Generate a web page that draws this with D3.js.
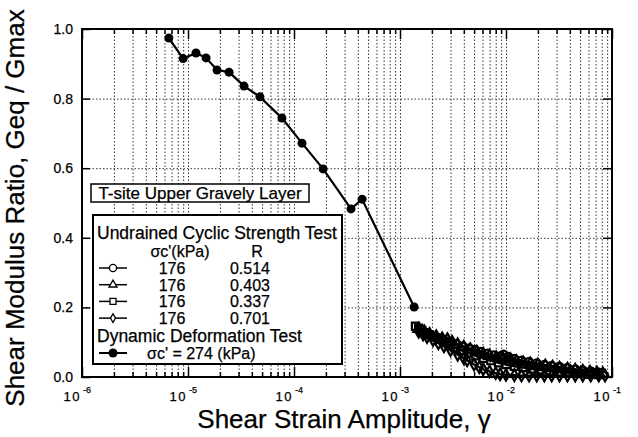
<html>
<head>
<script src="https://d3js.org/d3.v7.min.js" charset="utf-8"></script>
<style>
  body { margin: 0; background: #fff; }
  text { font-family: "Liberation Sans", Arial, Helvetica, sans-serif; fill: #000; stroke: #000; stroke-width: 0.25px; }
</style>
</head>
<body>
<div id="graph"></div>
<script>
// dynamic deformation test (filled circles)
const dynStrain = [6.6e-6, 9.0e-6, 1.19e-5, 1.48e-5, 1.88e-5, 2.44e-5, 3.38e-5, 4.77e-5, 7.7e-5, 1.19e-4, 1.88e-4, 3.45e-4, 4.39e-4, 1.36e-3];
const dynRatio  = [0.974, 0.915, 0.931, 0.917, 0.882, 0.876, 0.836, 0.805, 0.744, 0.672, 0.598, 0.483, 0.511, 0.201];

// undrained cyclic strength tests
const circStrain = [1.6e-3, 1.8e-3, 2.0e-3, 2.3e-3, 2.6e-3, 3.0e-3, 3.4e-3, 3.9e-3, 4.5e-3, 5.1e-3, 5.8e-3, 6.7e-3, 7.7e-3, 8.8e-3, 9.5e-3, 1.05e-2, 1.2e-2, 1.4e-2, 1.65e-2, 1.95e-2, 2.3e-2, 2.7e-2, 3.2e-2, 3.8e-2, 4.5e-2, 5.3e-2, 6.3e-2, 7.4e-2];
const circRatio  = [0.135, 0.126, 0.118, 0.112, 0.106, 0.100, 0.094, 0.088, 0.082, 0.078, 0.072, 0.067, 0.062, 0.059, 0.064, 0.058, 0.052, 0.047, 0.043, 0.039, 0.035, 0.032, 0.029, 0.026, 0.022, 0.019, 0.016, 0.013];

const triStrain = [1.5e-3, 1.7e-3, 1.9e-3, 2.2e-3, 2.5e-3, 2.8e-3, 3.1e-3, 3.5e-3, 4.0e-3, 4.6e-3, 5.3e-3, 6.1e-3, 7.0e-3, 8.1e-3, 9.4e-3, 1.1e-2, 1.25e-2, 1.45e-2, 1.7e-2, 2.0e-2, 2.35e-2, 2.75e-2, 3.2e-2, 3.8e-2, 4.5e-2, 5.3e-2, 6.2e-2, 7.2e-2, 8.2e-2];
const triRatio  = [0.138, 0.130, 0.123, 0.116, 0.110, 0.108, 0.100, 0.093, 0.086, 0.079, 0.072, 0.066, 0.061, 0.056, 0.052, 0.050, 0.045, 0.041, 0.038, 0.035, 0.032, 0.029, 0.026, 0.023, 0.020, 0.017, 0.014, 0.012, 0.010];

const sqStrain = [1.40e-3, 1.5e-3, 1.6e-3, 1.75e-3, 1.9e-3, 2.05e-3, 2.3e-3, 2.6e-3, 2.9e-3, 3.3e-3, 3.8e-3, 4.4e-3, 5.2e-3, 6.1e-3, 7.2e-3, 8.5e-3, 1.0e-2, 1.2e-2, 1.45e-2, 1.75e-2, 2.1e-2, 2.6e-2, 3.2e-2, 4.0e-2, 5.0e-2, 6.2e-2, 7.5e-2];
const sqRatio  = [0.146, 0.140, 0.134, 0.127, 0.121, 0.116, 0.108, 0.100, 0.093, 0.085, 0.077, 0.069, 0.061, 0.054, 0.047, 0.041, 0.036, 0.031, 0.027, 0.023, 0.020, 0.017, 0.014, 0.012, 0.010, 0.008, 0.007];

const diaStrain = [1.5e-3, 1.65e-3, 1.8e-3, 2.05e-3, 2.3e-3, 2.6e-3, 3.0e-3, 3.5e-3, 4.0e-3, 4.3e-3, 5.0e-3, 5.6e-3, 6.1e-3, 7.0e-3, 8.0e-3, 8.8e-3, 1.0e-2, 1.2e-2, 1.4e-2, 1.65e-2, 1.95e-2, 2.3e-2, 2.7e-2, 3.2e-2, 3.8e-2, 4.5e-2, 5.3e-2, 6.3e-2, 7.5e-2, 8.6e-2];
const diaRatio  = [0.130, 0.122, 0.115, 0.106, 0.097, 0.088, 0.077, 0.064, 0.054, 0.048, 0.036, 0.028, 0.022, 0.016, 0.011, 0.008, 0.006, 0.005, 0.004, 0.004, 0.004, 0.004, 0.004, 0.004, 0.004, 0.004, 0.004, 0.004, 0.004, 0.004];

// axes
const decades = [-6, -5, -4, -3, -2, -1];
const minorMult = [2, 3, 4, 5, 6, 7, 8, 9];
const yTicks = [0, 0.2, 0.4, 0.6, 0.8, 1.0];
const yGridTicks = [0.2, 0.4, 0.6, 0.8];

const legendRows = [
    {sym: d3.symbolCircle, size: 40, sigma: '176', R: '0.514'},
    {sym: d3.symbolTriangle, size: 28, sigma: '176', R: '0.403'},
    {sym: d3.symbolSquare, size: 36, sigma: '176', R: '0.337'},
    {sym: d3.symbolDiamond, size: 22, sigma: '176', R: '0.701'}
];

const W = 638, H = 437;
const pl = 82, pr = 612, pt = 29, pb = 377;

const x = d3.scaleLog().domain([1e-6, 1e-1]).range([pl, pr]);
const y = d3.scaleLinear().domain([0, 1]).range([pb, pt]);

const majors = decades.map(d => Math.pow(10, d));
const minors = [];
decades.slice(0, -1).forEach(d => minorMult.forEach(m => minors.push(m * Math.pow(10, d))));

const svg = d3.select('#graph').append('svg')
    .attr('width', W).attr('height', H);

// grid
svg.append('g')
    .attr('transform', 'translate(0,' + pb + ')')
    .call(d3.axisBottom(x).tickValues(minors.concat(majors.slice(1, -1))).tickSize(-(pb - pt)).tickFormat(''))
    .call(g => g.select('.domain').remove())
    .call(g => g.selectAll('line').attr('stroke', '#333').attr('stroke-width', 1).attr('stroke-dasharray', '1.5,2'));

svg.append('g')
    .attr('transform', 'translate(' + pl + ',0)')
    .call(d3.axisLeft(y).tickValues(yGridTicks).tickSize(-(pr - pl)).tickFormat(''))
    .call(g => g.select('.domain').remove())
    .call(g => g.selectAll('line').attr('stroke', '#333').attr('stroke-width', 1).attr('stroke-dasharray', '1.5,2'));

// inward ticks on all four sides
function tickAxis(axis, pos, vals, len) {
    svg.append('g')
        .attr('transform', pos)
        .call(axis.tickValues(vals).tickSize(-len).tickFormat(''))
        .call(g => g.select('.domain').remove())
        .call(g => g.selectAll('line').attr('stroke', '#000').attr('stroke-width', 1.5));
}
tickAxis(d3.axisBottom(x), 'translate(0,' + pb + ')', minors, 5);
tickAxis(d3.axisBottom(x), 'translate(0,' + pb + ')', majors, 10);
tickAxis(d3.axisTop(x), 'translate(0,' + pt + ')', minors, 5);
tickAxis(d3.axisTop(x), 'translate(0,' + pt + ')', majors, 10);
tickAxis(d3.axisRight(y), 'translate(' + pr + ',0)', yTicks, 9);

const yAxis = svg.append('g')
    .attr('transform', 'translate(' + pl + ',0)')
    .call(d3.axisLeft(y).tickValues(yTicks).tickSizeInner(-8).tickSizeOuter(0).tickPadding(9).tickFormat(d3.format('.1f')));
yAxis.select('.domain').remove();
yAxis.selectAll('line').attr('stroke', '#000').attr('stroke-width', 1.5);
yAxis.selectAll('text').style('font-size', '14px').attr('fill', '#000');

// x tick labels 10^n
majors.forEach((v, i) => {
    svg.append('text')
        .attr('x', x(v) - 1).attr('y', 401)
        .attr('text-anchor', 'end')
        .style('font-size', '13px')
        .style('letter-spacing', '1.5px')
        .text('10');
    svg.append('text')
        .attr('x', x(v) + 1).attr('y', 393)
        .style('font-size', '9px')
        .text(String(decades[i]));
});

// frame
svg.append('rect')
    .attr('x', pl).attr('y', pt)
    .attr('width', pr - pl).attr('height', pb - pt)
    .attr('fill', 'none').attr('stroke', '#000').attr('stroke-width', 2);

// axis titles
svg.append('text')
    .attr('x', 344).attr('y', 428)
    .attr('text-anchor', 'middle')
    .style('font-size', '26px')
    .text('Shear Strain Amplitude, \u03b3');

svg.append('text')
    .attr('transform', 'translate(24,' + 208 + ') rotate(-90)')
    .attr('text-anchor', 'middle')
    .style('font-size', '26px')
    .text('Shear Modulus Ratio, Geq / Gmax');

// cyclic test series
const cyc = [
    {xs: diaStrain, ys: diaRatio, sym: d3.symbolDiamond, size: 38},
    {xs: sqStrain, ys: sqRatio, sym: d3.symbolSquare, size: 52},
    {xs: triStrain, ys: triRatio, sym: d3.symbolTriangle, size: 48},
    {xs: circStrain, ys: circRatio, sym: d3.symbolCircle, size: 52}
];
const line = d3.line().x(d => x(d[0])).y(d => y(d[1]));
cyc.forEach(s => {
    const pts = s.xs.map((v, i) => [v, s.ys[i]]);
    svg.append('path').datum(pts)
        .attr('d', line).attr('fill', 'none').attr('stroke', '#000').attr('stroke-width', 2.4);
    svg.selectAll(null).data(pts).enter().append('path')
        .attr('transform', d => 'translate(' + x(d[0]) + ',' + y(d[1]) + ')')
        .attr('d', d3.symbol().type(s.sym).size(s.size))
        .attr('fill', 'none').attr('stroke', '#000').attr('stroke-width', 2.2);
});

// dynamic deformation series
const dyn = dynStrain.map((v, i) => [v, dynRatio[i]]);
svg.append('path').datum(dyn)
    .attr('d', line).attr('fill', 'none').attr('stroke', '#000').attr('stroke-width', 2.2);
svg.selectAll('.dot').data(dyn).enter().append('circle')
    .attr('class', 'dot')
    .attr('cx', d => x(d[0])).attr('cy', d => y(d[1]))
    .attr('r', 4.5).attr('fill', '#000');

// site label box
svg.append('rect')
    .attr('x', 91).attr('y', 184).attr('width', 218).attr('height', 18)
    .attr('fill', '#fff').attr('stroke', '#000').attr('stroke-width', 1.5);
svg.append('text')
    .attr('x', 200).attr('y', 199)
    .attr('text-anchor', 'middle')
    .style('font-size', '17px')
    .text('T-site Upper Gravely Layer');

// legend
const lg = svg.append('g');
lg.append('rect')
    .attr('x', 93).attr('y', 215).attr('width', 249).attr('height', 149)
    .attr('fill', '#fff').attr('stroke', '#000').attr('stroke-width', 2);
lg.append('text').attr('x', 97).attr('y', 239).style('font-size', '17.5px')
    .text('Undrained Cyclic Strength Test');
lg.append('text').attr('x', 180).attr('y', 257).attr('text-anchor', 'middle').style('font-size', '16px')
    .text("\u03c3c'(kPa)");
lg.append('text').attr('x', 257).attr('y', 257).attr('text-anchor', 'middle').style('font-size', '16px')
    .text('R');
legendRows.forEach((r, i) => {
    const cy = 268 + i * 16.7;
    lg.append('line').attr('x1', 99).attr('x2', 127).attr('y1', cy).attr('y2', cy)
        .attr('stroke', '#000').attr('stroke-width', 1.5);
    lg.append('path')
        .attr('transform', 'translate(113,' + cy + ')')
        .attr('d', d3.symbol().type(r.sym).size(r.size))
        .attr('fill', '#fff').attr('stroke', '#000').attr('stroke-width', 1.3);
    lg.append('text').attr('x', 172).attr('y', cy + 6).attr('text-anchor', 'middle').style('font-size', '16px')
        .text(r.sigma);
    lg.append('text').attr('x', 250).attr('y', cy + 6).attr('text-anchor', 'middle').style('font-size', '16px')
        .text(r.R);
});
lg.append('text').attr('x', 97).attr('y', 342).style('font-size', '17.5px')
    .text('Dynamic Deformation Test');
lg.append('line').attr('x1', 99).attr('x2', 127).attr('y1', 353).attr('y2', 353)
    .attr('stroke', '#000').attr('stroke-width', 2);
lg.append('circle').attr('cx', 113).attr('cy', 353).attr('r', 4.5).attr('fill', '#000');
lg.append('text').attr('x', 147).attr('y', 359).style('font-size', '16px')
    .text("\u03c3c' = 274 (kPa)");
</script>
</body>
</html>
